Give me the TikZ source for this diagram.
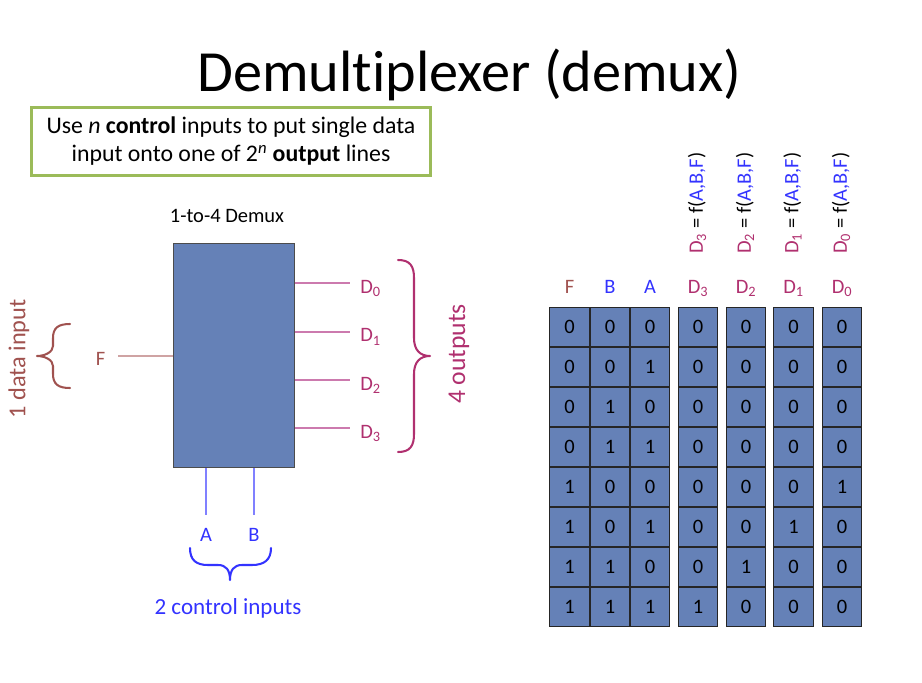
\documentclass[tikz,border=0pt]{standalone}
\usepackage{fontspec}
\setmainfont{Carlito}[Ligatures=NoCommon]
\usetikzlibrary{calc}
\definecolor{boxblue}{HTML}{6581B7}
\definecolor{notegreen}{HTML}{9BBB59}
\definecolor{mag}{HTML}{B0306F}
\definecolor{magline}{HTML}{CC7AAE}
\definecolor{brn}{HTML}{A0524F}
\definecolor{brnline}{HTML}{CFA3A3}
\definecolor{tblue}{HTML}{3333FF}
\definecolor{bline}{HTML}{8080FF}
\newcommand{\fs}[1]{\fontsize{#1}{1.2\dimexpr#1pt\relax}\selectfont}
\tikzset{
  cell/.style={draw=black!85, line width=0.8pt, fill=boxblue, minimum width=31.2pt, minimum height=31.2pt, inner sep=0pt, font=\fs{16}},
  lbl/.style={inner sep=0pt, font=\fs{16}},
  bracestyle/.style={line width=1.6pt, line cap=round, line join=round},
}
\begin{document}
\begin{tikzpicture}[x=0.7809pt,y=-0.7809pt]
\useasboundingbox (0,0) rectangle (922,683);
% title
\node[lbl, font=\fs{45.5}, anchor=base] (title) at (469.5,92) {Demultiplexer (demux)};
% note box
\node[draw=notegreen, line width=2.4pt, minimum width=312pt, minimum height=53pt, align=center, font=\fs{18.6}, inner sep=0pt] (note) at (231,141.5)
  {Use \textit{n} \textbf{control} inputs to put single data\\[-0.4pt] input onto one of 2\textsuperscript{\textit{n}} \textbf{output} lines};
% demux
\node[lbl] (dtitle) at (227,216) {1-to-4 Demux};
\node[draw=black!70, line width=0.8pt, fill=boxblue, minimum width=94pt, minimum height=175pt, inner sep=0pt] (box) at (234,355.5) {};
% data input
\node[lbl, text=brn, anchor=base] (F) at (100.5,365) {F};
\coordinate (fin) at (118,356);
\draw[brnline, line width=1.3pt] (fin) -- (fin -| box.west);
\draw[brn, bracestyle] (70,324) .. controls (58,324) and (53,328) .. (53,338) -- (53,346) .. controls (53,352) and (45,356) .. (37,356) .. controls (45,356) and (53,360) .. (53,366) -- (53,374) .. controls (53,384) and (58,388) .. (70,388);
\node[lbl, font=\fs{19}, text=brn, rotate=90] (din) at (19,359) {1 data input};
% outputs
\foreach \i/\y in {0/283,1/331.7,2/380,3/428}{
  \coordinate (o\i) at (350,\y);
  \draw[magline, line width=1.3pt] (o\i -| box.east) -- (o\i);
  \node[lbl, text=mag, anchor=base west] (D\i) at (360,\y+10) {D\textsubscript{\i}};
}
\draw[mag, bracestyle] (398,260) .. controls (410,260) and (414,266) .. (414,278) -- (414,338) .. controls (414,350) and (420,356) .. (430,356) .. controls (420,356) and (414,362) .. (414,374) -- (414,434) .. controls (414,446) and (410,452) .. (398,452);
\node[lbl, font=\fs{20}, text=mag, rotate=90] (outs) at (459,354) {4 outputs};
% control inputs
\coordinate (ca) at (206,515);
\coordinate (cb) at (254,515);
\draw[bline, line width=1.3pt] (ca |- box.south) -- (ca);
\draw[bline, line width=1.3pt] (cb |- box.south) -- (cb);
\node[lbl, text=tblue, anchor=base] (A) at (206,541) {A};
\node[lbl, text=tblue, anchor=base] (B) at (254,541) {B};
\draw[tblue, bracestyle] (190,548) .. controls (190,560) and (196,565) .. (208,565) -- (218,565) .. controls (226,565) and (230,570) .. (230,580) .. controls (230,570) and (234,565) .. (242,565) -- (252,565) .. controls (264,565) and (271,560) .. (271,548);
\node[lbl, font=\fs{18}, text=tblue, anchor=base] (ctl) at (228,614) {2 control inputs};
% truth table headers
\node[lbl, text=brn, anchor=base] (hF) at (569.5,293) {F};
\node[lbl, text=tblue, anchor=base] (hB) at (610,293) {B};
\node[lbl, text=tblue, anchor=base] (hA) at (650,293) {A};
\foreach \n/\x in {3/698,2/746,1/793.5,0/842}{
  \node[lbl, text=mag, anchor=base] (hD\n) at (\x,293) {D\textsubscript{\n}};
  \node[lbl, rotate=90, anchor=west] (fD\n) at (\x-1,254) {\textcolor{mag}{D\textsubscript{\n}} = f(\textcolor{tblue}{A,B,F})};
}
% truth table cells
\foreach \r/\vF/\vB/\vA/\dt/\dd/\de/\dz in {
  0/0/0/0/0/0/0/0, 1/0/0/1/0/0/0/0, 2/0/1/0/0/0/0/0, 3/0/1/1/0/0/0/0,
  4/1/0/0/0/0/0/1, 5/1/0/1/0/0/1/0, 6/1/1/0/0/1/0/0, 7/1/1/1/1/0/0/0}{
  \node[cell] (cF\r) at (569.5,327+40*\r) {\vF};
  \node[cell] (cB\r) at (610,327+40*\r) {\vB};
  \node[cell] (cA\r) at (650,327+40*\r) {\vA};
  \node[cell] (cDt\r) at (698,327+40*\r) {\dt};
  \node[cell] (cDd\r) at (746,327+40*\r) {\dd};
  \node[cell] (cDe\r) at (793.5,327+40*\r) {\de};
  \node[cell] (cDz\r) at (842,327+40*\r) {\dz};
}
\end{tikzpicture}
\end{document}
